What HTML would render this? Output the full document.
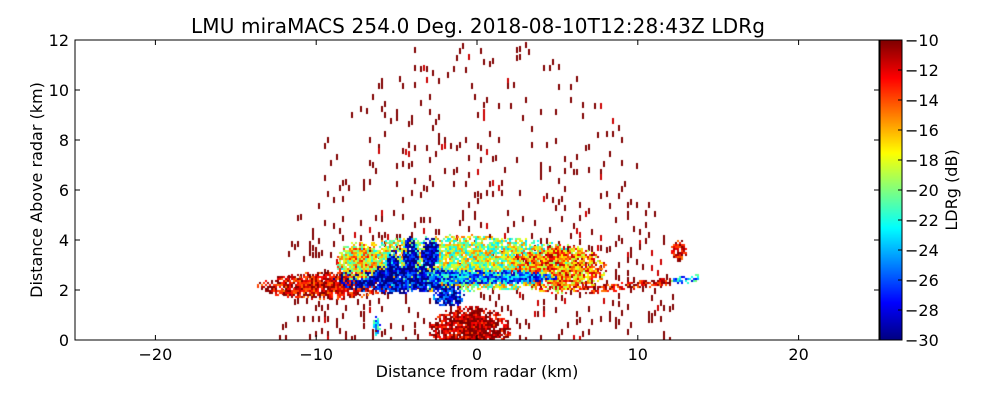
<!DOCTYPE html>
<html><head><meta charset="utf-8"><style>
body{margin:0;background:#fff;}
#wrap{position:relative;width:1000px;height:400px;font-family:"Liberation Sans","DejaVu Sans",sans-serif;}
canvas{position:absolute;}
svg{position:absolute;left:0;top:0;}
text{font-family:"DejaVu Sans","Liberation Sans",sans-serif;}
</style></head><body>
<div id="wrap">
<canvas id="plot" width="804" height="300" style="left:75px;top:40px"></canvas>
<canvas id="cbar" width="22" height="300" style="left:880px;top:40px"></canvas>
<svg id="ax" width="1000" height="400"></svg>
</div>
<script>
// Data: echo regions (ellipses, km) and LDR values (dB)
const regionCx  = [-1,  -9.5, 5,   -4.8, -4.2, -3,  -5.3, 0.5, -1.8, -0.5, 12.5, -6.3, -7.5];
const regionCy  = [3.1,  2.2, 2.9, 2.45, 3.3, 3.5,  3.0, 2.55, 1.75, 0.45, 3.6, 0.6, 3.2];
const regionRx  = [8,    4.2, 3,   4.2,  0.5, 0.6,  0.4, 4.5, 1.0,  2.6,  0.5, 0.25, 1.3];
const regionRy  = [1.15, 0.55,1.0, 0.55, 0.9, 0.7,  0.7, 0.3, 0.4,  0.95, 0.45,0.4, 0.8];
const regionLdr = [-19, -12, -15, -29,  -29, -29,  -29, -25, -28,  -11,  -12, -23, -17];
const xTicks = [-20,-10,0,10,20];
const yTicks = [0,2,4,6,8,10,12];
const cTicks = [-10,-12,-14,-16,-18,-20,-22,-24,-26,-28,-30];

const X0=75,X1=879,Y0=40,Y1=340;
const sx=v=>(v+25)/50*(X1-X0);
const sy=v=>(Y1-Y0)-v/12*(Y1-Y0);
const ix=p=>p/(X1-X0)*50-25;
const iy=p=>(Y1-Y0-p)/(Y1-Y0)*12;
function jet(t){t=Math.max(0,Math.min(1,t));
 const r=Math.max(0,Math.min(1,1.5-Math.abs(4*t-3))),g=Math.max(0,Math.min(1,1.5-Math.abs(4*t-2))),b=Math.max(0,Math.min(1,1.5-Math.abs(4*t-1)));
 return `rgb(${r*255|0},${g*255|0},${b*255|0})`;}
const ldrColor=v=>jet((v+30)/20);
function h(i,j){let n=i*374761393+j*668265263;n=(n^(n>>>13))*1274126177;n=n^(n>>>16);return (n>>>0)/4294967296;}

const ctx=document.getElementById('plot').getContext('2d');
// sparse clutter dashes
for(let i=0;i<804;i+=3)for(let j=0;j<300;j+=6){
 const x=ix(i),y=iy(j),r=Math.hypot(x,y);
 const dens = y<4.5 ? 0.16 : 0.09;
 if(r<12.4 && Math.abs(x)<14 && h(i,j)<dens){ctx.fillStyle=h(j,i)<0.85?'#800000':'#cc0000';ctx.fillRect(i,j+(h(i+1,j)*4|0),2,6);}
}
// echo regions
for(let i=0;i<804;i+=2)for(let j=0;j<300;j+=2){
 const x=ix(i),y=iy(j);let v=null;
 for(let k=0;k<regionCx.length;k++){
  const d=((x-regionCx[k])/regionRx[k])**2+((y-regionCy[k])/regionRy[k])**2;
  if(d<1 && h(i+k,j)>0.05+0.6*d*d) v=regionLdr[k];
 }
 // thin right tail
 if(x>6.5&&x<13.7){const yc=2.0+(x-6.5)*0.07;if(Math.abs(y-yc)<0.15&&h(i,j)>0.35)v=x>12?-24:-12;}
 if(v!==null){v+= (h(j,i)-0.5)*(v>-14?6:9);ctx.fillStyle=ldrColor(v);ctx.fillRect(i,j,2,2);}
}
// colorbar
const cb=document.getElementById('cbar').getContext('2d');
for(let j=0;j<300;j++){cb.fillStyle=jet(1-j/300);cb.fillRect(0,j,22,1);}

const svg=document.getElementById('ax');const NS='http://www.w3.org/2000/svg';
function el(t,a,txt){const e=document.createElementNS(NS,t);for(const k in a)e.setAttribute(k,a[k]);if(txt!==undefined)e.textContent=txt;svg.appendChild(e);return e;}
let e=el('rect',{x:X0,y:Y0,width:X1-X0,height:Y1-Y0,fill:'none',stroke:'#000'});


e=el('rect',{x:880,y:40,width:22,height:300,fill:'none',stroke:'#000'});


xTicks.forEach(t=>{const p=X0+sx(t);
 el('line',{x1:p,x2:p,y1:Y1,y2:Y1-5,stroke:'#000'});el('line',{x1:p,x2:p,y1:Y0,y2:Y0+5,stroke:'#000'});
 const l=el('text',{x:p,y:360,'font-size':16,'text-anchor':'middle'},(t<0?'\u2212':'')+Math.abs(t));
 
 });
yTicks.forEach(t=>{const p=Y0+sy(t);
 el('line',{x1:X0,x2:X0+5,y1:p,y2:p,stroke:'#000'});el('line',{x1:X1,x2:X1-5,y1:p,y2:p,stroke:'#000'});
 const l=el('text',{x:69,y:p+6,'font-size':16,'text-anchor':'end'},t);
 
 });
cTicks.forEach(t=>{const p=40+(-10-t)/20*300;
 el('line',{x1:898,x2:902,y1:p,y2:p,stroke:'#000'});
 const l=el('text',{x:905,y:p+6,'font-size':16},'\u2212'+Math.abs(t));
 
 });
e=el('text',{x:478,y:33,'font-size':20,'text-anchor':'middle',textLength:574},'LMU miraMACS 254.0 Deg. 2018-08-10T12:28:43Z  LDRg');


e=el('text',{x:477,y:377,'font-size':16,'text-anchor':'middle'},'Distance from radar (km)');


e=el('text',{x:42,y:190,'font-size':16,'text-anchor':'middle',transform:'rotate(-90 42 190)'},'Distance Above radar  (km)');


e=el('text',{x:957,y:190,'font-size':16,'text-anchor':'middle',transform:'rotate(-90 957 190)'},'LDRg (dB)');


</script>
</body></html>
